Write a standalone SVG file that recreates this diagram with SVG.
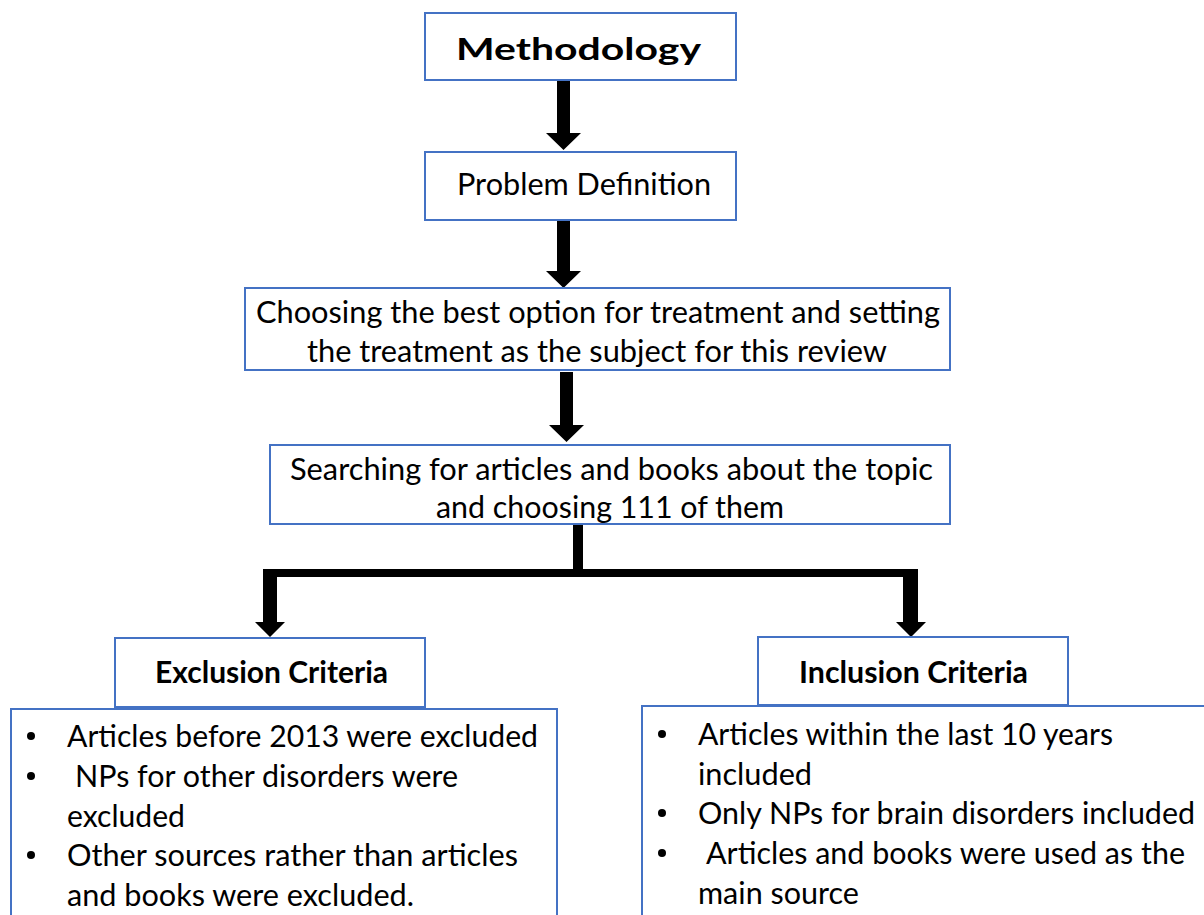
<svg xmlns="http://www.w3.org/2000/svg" width="1204" height="915" viewBox="0 0 1204 915">
<style>
.box{fill:#fff;stroke:#4472C4;stroke-width:2}
.t{font-family:Lato,"Liberation Sans",sans-serif;font-size:30px;fill:#000}
.b{font-weight:bold}
.arr{fill:#000}
</style>
<rect width="1204" height="915" fill="#fff"/>
<g id="connectors">
<polygon class="arr" points="557,80 570,80 570,133 581,133 563.5,150 546,133 557,133"/>
<polygon class="arr" points="557,220 570,220 570,271 581,271 563.5,288 546,271 557,271"/>
<polygon class="arr" points="560,372 573,372 573,425 584,425 566.5,442 549,425 560,425"/>
<rect class="arr" x="573" y="524" width="10" height="50"/>
<rect class="arr" x="263" y="569" width="655" height="8"/>
<polygon class="arr" points="263,569 277,569 277,622 285,622 270,637 255,622 263,622"/>
<polygon class="arr" points="903,569 918,569 918,622 926,622 911,637 896,622 903,622"/>
</g>
<g id="methodology">
<rect class="box" x="425" y="13" width="311" height="67"/>
<text class="t b" x="578.5" y="60" font-size="40" text-anchor="middle" textLength="245" lengthAdjust="spacingAndGlyphs">Methodology</text>
</g>
<g id="problem">
<rect class="box" x="425" y="152" width="311" height="68"/>
<text class="t" x="457" y="195" textLength="254" lengthAdjust="spacingAndGlyphs">Problem Definition</text>
</g>
<g id="choosing">
<rect class="box" x="245" y="288" width="705" height="82"/>
<text class="t" x="256" y="323" textLength="684" lengthAdjust="spacingAndGlyphs">Choosing the best option for treatment and setting</text>
<text class="t" x="307" y="362" textLength="580" lengthAdjust="spacingAndGlyphs">the treatment as the subject for this review</text>
</g>
<g id="searching">
<rect class="box" x="270" y="445" width="680" height="79"/>
<text class="t" x="290" y="480" textLength="643" lengthAdjust="spacingAndGlyphs">Searching for articles and books about the topic</text>
<text class="t" x="436" y="518" textLength="348" lengthAdjust="spacingAndGlyphs">and choosing 111 of them</text>
</g>
<g id="exclusion-title">
<rect class="box" x="115" y="638" width="310" height="69"/>
<text class="t b" x="155" y="683" textLength="233" lengthAdjust="spacingAndGlyphs">Exclusion Criteria</text>
</g>
<g id="exclusion-body">
<rect class="box" x="11" y="709" width="546" height="215"/>
<circle cx="31" cy="736" r="4"/>
<text class="t" x="67" y="747" textLength="471" lengthAdjust="spacingAndGlyphs">Articles before 2013 were excluded</text>
<circle cx="31" cy="776" r="4"/>
<text class="t" x="75" y="787" textLength="383" lengthAdjust="spacingAndGlyphs">NPs for other disorders were</text>
<text class="t" x="67" y="827" textLength="118" lengthAdjust="spacingAndGlyphs">excluded</text>
<circle cx="31" cy="855" r="4"/>
<text class="t" x="67" y="866" textLength="451" lengthAdjust="spacingAndGlyphs">Other sources rather than articles</text>
<text class="t" x="67" y="906" textLength="347" lengthAdjust="spacingAndGlyphs">and books were excluded.</text>
</g>
<g id="inclusion-title">
<rect class="box" x="758" y="637" width="310" height="68"/>
<text class="t b" x="799" y="683" textLength="229" lengthAdjust="spacingAndGlyphs">Inclusion Criteria</text>
</g>
<g id="inclusion-body">
<rect class="box" x="642" y="706" width="580" height="220"/>
<circle cx="662" cy="734" r="4"/>
<text class="t" x="698" y="745" textLength="415" lengthAdjust="spacingAndGlyphs">Articles within the last 10 years</text>
<text class="t" x="698" y="785" textLength="114" lengthAdjust="spacingAndGlyphs">included</text>
<circle cx="662" cy="813" r="4"/>
<text class="t" x="698" y="824" textLength="497" lengthAdjust="spacingAndGlyphs">Only NPs for brain disorders included</text>
<circle cx="662" cy="853" r="4"/>
<text class="t" x="706" y="864" textLength="479" lengthAdjust="spacingAndGlyphs">Articles and books were used as the</text>
<text class="t" x="698" y="904" textLength="161" lengthAdjust="spacingAndGlyphs">main source</text>
</g>
</svg>
